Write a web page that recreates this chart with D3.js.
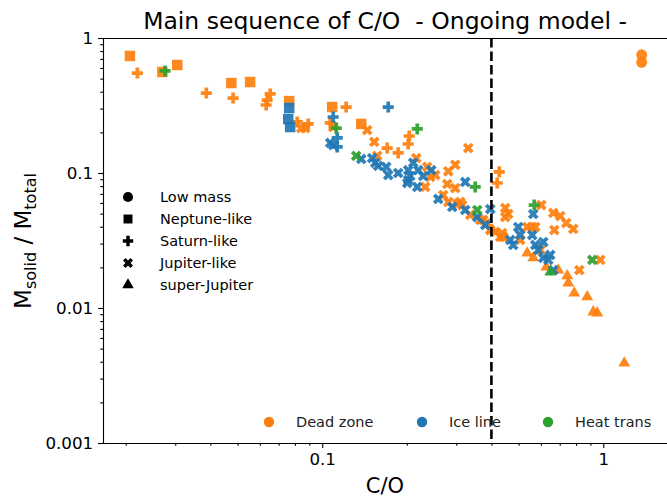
<!DOCTYPE html>
<html>
<head>
<meta charset="utf-8">
<script src="https://cdn.jsdelivr.net/npm/d3@7"></script>
<style>
  body { margin: 0; background: #fff; }
  svg { display: block; font-family: "DejaVu Sans", sans-serif; }
</style>
</head>
<body>
<svg id="chart" width="667" height="497"></svg>
<script>
// C/O ratio vs solid mass fraction, one array per zone and planet type
var deadLow = [[1.37, 0.75], [1.37, 0.66]];
var deadNeptune = [[0.0207, 0.736], [0.0270, 0.560], [0.0305, 0.631], [0.0475, 0.464], [0.0554, 0.472],
  [0.0763, 0.341], [0.1085, 0.308], [0.1377, 0.231]];
var deadSaturn = [[0.0220, 0.550], [0.0387, 0.391], [0.0482, 0.359], [0.0653, 0.385], [0.0637, 0.347],
  [0.0632, 0.319], [0.0815, 0.239], [0.0892, 0.231], [0.1217, 0.308], [0.1068, 0.235], [0.1703, 0.153],
  [0.1864, 0.141], [0.204, 0.188], [0.2023, 0.164], [0.4265, 0.102], [0.4196, 0.0843]];
var deadJupiter = [[0.0842, 0.215], [0.0870, 0.215], [0.1094, 0.219], [0.1446, 0.208], [0.1532, 0.170],
  [0.1569, 0.134], [0.2161, 0.129], [0.2364, 0.111], [0.2424, 0.0934], [0.2526, 0.0966], [0.2974, 0.115],
  [0.2809, 0.103], [0.3308, 0.153], [0.2786, 0.0829], [0.2974, 0.0774], [0.2326, 0.0788], [0.2696, 0.0687],
  [0.2809, 0.0610], [0.3023, 0.0589], [0.3098, 0.0610], [0.3363, 0.0489], [0.365, 0.0449], [0.3866, 0.0426],
  [0.3962, 0.0378], [0.4127, 0.0366], [0.4407, 0.0336], [0.448, 0.055], [0.4592, 0.0497], [0.448, 0.0472],
  [0.6019, 0.0579], [0.6641, 0.0506], [0.7031, 0.048], [0.7385, 0.0426], [0.7822, 0.0385], [0.6694, 0.0378],
  [0.4371, 0.0359], [0.43, 0.0336], [0.5364, 0.0398], [0.5589, 0.0398], [0.573, 0.0398], [0.5066, 0.0319],
  [0.597, 0.0269], [0.8216, 0.0191], [0.9757, 0.0227], [0.3149, 0.0579], [0.3741, 0.0449]];
var deadSuper = [[0.4027, 0.0378], [0.5364, 0.0255], [0.5636, 0.0235], [0.6271, 0.0201], [0.6918, 0.0191],
  [0.7447, 0.0173], [0.7508, 0.0153], [0.7886, 0.0129], [0.8772, 0.0121], [0.9216, 0.00934],
  [0.9519, 0.00918], [1.188, 0.00391]];

var iceNeptune = [[0.0763, 0.303], [0.0757, 0.251], [0.0769, 0.219]];
var iceSaturn = [[0.1718, 0.308], [0.1094, 0.26], [0.1131, 0.182], [0.1131, 0.156]];
var iceJupiter = [[0.1068, 0.167], [0.1094, 0.161], [0.1377, 0.127], [0.1506, 0.129], [0.1544, 0.119],
  [0.1582, 0.113], [0.169, 0.111], [0.1718, 0.0966], [0.1864, 0.1], [0.2023, 0.105], [0.2023, 0.0887],
  [0.2108, 0.119], [0.2196, 0.105], [0.2057, 0.095], [0.2288, 0.095], [0.2007, 0.0843], [0.2444, 0.105],
  [0.2179, 0.0788], [0.3228, 0.0858], [0.2588, 0.0642], [0.2902, 0.056], [0.3228, 0.0532], [0.3561, 0.0472],
  [0.3962, 0.0541], [0.5636, 0.0497], [0.4984, 0.0398], [0.5066, 0.0347], [0.5589, 0.0347], [0.4667, 0.0319],
  [0.4783, 0.0293], [0.573, 0.0293], [0.6118, 0.0308], [0.5872, 0.0269], [0.6118, 0.0235], [0.6479, 0.0247],
  [0.6374, 0.0227], [0.6641, 0.0191], [0.3802, 0.0412]];

var heatSaturn = [[0.0276, 0.57], [0.2179, 0.212], [0.1122, 0.215], [0.3503, 0.0788], [0.5682, 0.0579]];
var heatJupiter = [[0.1321, 0.134], [0.3561, 0.0532], [0.9141, 0.0227]];
var heatSuper = [[0.6479, 0.0185]];

var zoneNames = ["Dead zone", "Ice line", "Heat trans"];
var zoneColors = ["#ff7f0e", "#1f77b4", "#2ca02c"];
var typeNames = ["Low mass", "Neptune-like", "Saturn-like", "Jupiter-like", "super-Jupiter"];
var xTicks = [0.1, 1];
var yTicks = [0.001, 0.01, 0.1, 1];
var iceLineCO = 0.4;

var svg = d3.select("#chart");

var x = d3.scaleLog().domain([0.0166, 1.8]).range([103, 675]);
var y = d3.scaleLog().domain([0.001, 1]).range([443, 38]);

// marker shapes, index follows typeNames
var shapes = [
  d3.symbol().type(d3.symbolCircle).size(95),
  d3.symbol().type(d3.symbolSquare).size(110),
  d3.symbol().type(d3.symbolCross).size(68),
  d3.symbol().type(d3.symbolCross).size(72),
  d3.symbol().type(d3.symbolTriangle).size(62)
];

svg.append("clipPath").attr("id", "clip")
  .append("rect").attr("x", 103).attr("y", 38).attr("width", 600).attr("height", 405);

var plot = svg.append("g").attr("clip-path", "url(#clip)");

function drawGroup(data, zone, type) {
  plot.append("g").selectAll("path")
    .data(data)
    .enter().append("path")
    .attr("d", shapes[type]())
    .attr("transform", function(d) {
      return "translate(" + x(d[0]) + "," + y(d[1]) + ")" + (type == 3 ? " rotate(45)" : "");
    })
    .attr("fill", zoneColors[zone])
    .attr("fill-opacity", 0.92);
}

drawGroup(deadLow, 0, 0);
drawGroup(deadNeptune, 0, 1);
drawGroup(deadSaturn, 0, 2);
drawGroup(deadJupiter, 0, 3);
drawGroup(deadSuper, 0, 4);
drawGroup(iceNeptune, 1, 1);
drawGroup(iceSaturn, 1, 2);
drawGroup(iceJupiter, 1, 3);
drawGroup(heatSaturn, 2, 2);
drawGroup(heatJupiter, 2, 3);
drawGroup(heatSuper, 2, 4);

// ice line
svg.append("line")
  .attr("x1", x(iceLineCO)).attr("x2", x(iceLineCO))
  .attr("y1", 38).attr("y2", 443)
  .attr("stroke", "#000").attr("stroke-width", 2.6)
  .attr("stroke-dasharray", "9.5,4");

// minor ticks
var xMinor = [];
[0.01, 0.1, 1].forEach(function(d) { for (var i = 2; i < 10; i++) xMinor.push(d * i); });
xMinor = xMinor.filter(function(v) { return v > 0.0166 && v < 1.7; });
var yMinor = [];
[0.001, 0.01, 0.1].forEach(function(d) { for (var i = 2; i < 10; i++) yMinor.push(d * i); });

svg.append("g").attr("transform", "translate(0,443)")
  .call(d3.axisBottom(x).tickValues(xMinor).tickSize(2.8).tickFormat(""))
  .call(function(g) { g.select(".domain").remove(); });
svg.append("g").attr("transform", "translate(103,0)")
  .call(d3.axisLeft(y).tickValues(yMinor).tickSize(2.8).tickFormat(""))
  .call(function(g) { g.select(".domain").remove(); });

var xAxis = svg.append("g").attr("transform", "translate(0,443)")
  .call(d3.axisBottom(x).tickValues(xTicks).tickSize(4.9).tickPadding(5.5).tickFormat(d3.format("")));
xAxis.select(".domain").attr("d", "M103,0.5H667");
var yAxis = svg.append("g").attr("transform", "translate(103,0)")
  .call(d3.axisLeft(y).tickValues(yTicks).tickSize(4.9).tickPadding(4.9).tickFormat(d3.format("")));

svg.selectAll(".tick line").attr("stroke-width", 1.1);
svg.selectAll(".domain").attr("stroke-width", 1.1);
svg.selectAll(".tick text").attr("font-size", 16.7).attr("fill", "#000")
  .attr("font-family", "DejaVu Sans");

// top spine
svg.append("line").attr("x1", 103).attr("x2", 667).attr("y1", 38.5).attr("y2", 38.5)
  .attr("stroke", "#000").attr("stroke-width", 1.1);

// title and labels
svg.append("text")
  .attr("x", 385).attr("y", 29)
  .attr("text-anchor", "middle").attr("font-size", 23.5)
  .style("white-space", "pre")
  .text("Main sequence of C/O  - Ongoing model -");

svg.append("text")
  .attr("x", 385).attr("y", 493)
  .attr("text-anchor", "middle").attr("font-size", 21)
  .text("C/O");

var yl = svg.append("text")
  .attr("transform", "translate(31,241) rotate(-90)")
  .attr("text-anchor", "middle").attr("font-size", 23);
yl.append("tspan").text("M");
yl.append("tspan").attr("font-size", 16).attr("dy", 5).text("solid");
yl.append("tspan").attr("dy", -5).text(" / M");
yl.append("tspan").attr("font-size", 16).attr("dy", 5).text("total");

// planet type legend
var typeLeg = svg.append("g");
typeNames.forEach(function(name, i) {
  var cy = 197 + i * 22;
  typeLeg.append("path")
    .attr("d", d3.symbol().type([d3.symbolCircle, d3.symbolSquare, d3.symbolCross, d3.symbolCross, d3.symbolTriangle][i])
      .size([80, 80, 60, 62, 58][i])())
    .attr("transform", "translate(128," + cy + ")" + (i == 3 ? " rotate(45)" : ""))
    .attr("fill", "#000");
  typeLeg.append("text").attr("x", 160).attr("y", cy + 5)
    .attr("font-size", 14.5).text(name);
});

// zone legend
var zoneX = [269, 422, 548];
zoneNames.forEach(function(name, i) {
  svg.append("circle").attr("cx", zoneX[i]).attr("cy", 422).attr("r", 5.2).attr("fill", zoneColors[i]);
  svg.append("text").attr("x", zoneX[i] + 27).attr("y", 427)
    .attr("font-size", 14.5).attr("fill", "#222").text(name);
});
</script>
</body>
</html>
